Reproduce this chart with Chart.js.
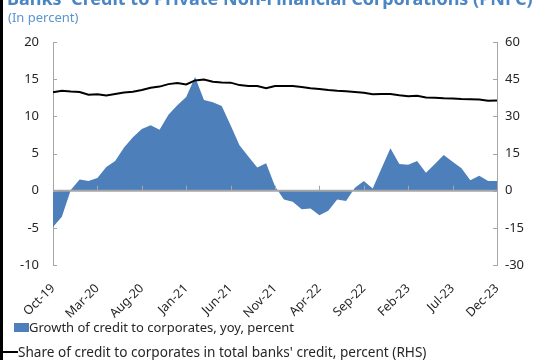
<!DOCTYPE html>
<html>
<head>
<meta charset="utf-8">
<script src="https://cdn.jsdelivr.net/npm/chart.js@4/dist/chart.umd.min.js"></script>
<style>
body { margin: 0; background: #fff; font-family: "Noto Sans", sans-serif; }
#page { position: relative; width: 539px; height: 360px; overflow: hidden; }
#frame { position: absolute; left: 0; top: 0; width: 3px; height: 360px; background: #000; }
#title { position: absolute; left: 7px; top: -14px; font-size: 18px; font-weight: bold; color: #4a85c4; white-space: nowrap; }
#subtitle { position: absolute; left: 8px; top: 8px; font-size: 13px; color: #5b95d0; }
#chartBox { position: absolute; left: 0; top: 0; width: 539px; height: 360px; }
.legendRow { position: absolute; font-size: 13px; color: #262626; white-space: nowrap; display: flex; align-items: center; }
.swatch { display: inline-block; width: 15px; height: 9px; background: #4d7fbb; }
.dash { display: inline-block; width: 15px; height: 2px; background: #000; }
</style>
</head>
<body>
<div id="page">
  <div id="chartBox"><canvas id="creditChart"></canvas></div>
  <div id="frame"></div>
  <div id="title">Banks' Credit to Private Non-Financial Corporations (PNFC)</div>
  <div id="subtitle">(In percent)</div>
  <div class="legendRow" style="left:14px; top:318px;"><span class="swatch"></span><span>Growth of credit to corporates, yoy, percent</span></div>
  <div class="legendRow" style="left:3px; top:342px; font-size:13.6px;"><span class="dash"></span><span>Share of credit to corporates in total banks' credit, percent (RHS)</span></div>
</div>
<script>
const months = [
    'Oct-19', 'Nov-19', 'Dec-19',
    'Jan-20', 'Feb-20', 'Mar-20', 'Apr-20', 'May-20', 'Jun-20', 'Jul-20', 'Aug-20', 'Sep-20', 'Oct-20', 'Nov-20', 'Dec-20',
    'Jan-21', 'Feb-21', 'Mar-21', 'Apr-21', 'May-21', 'Jun-21', 'Jul-21', 'Aug-21', 'Sep-21', 'Oct-21', 'Nov-21', 'Dec-21',
    'Jan-22', 'Feb-22', 'Mar-22', 'Apr-22', 'May-22', 'Jun-22', 'Jul-22', 'Aug-22', 'Sep-22', 'Oct-22', 'Nov-22', 'Dec-22',
    'Jan-23', 'Feb-23', 'Mar-23', 'Apr-23', 'May-23', 'Jun-23', 'Jul-23', 'Aug-23', 'Sep-23', 'Oct-23', 'Nov-23', 'Dec-23'
];

// growth of credit to corporates, yoy, % (left axis)
const creditGrowth = [
    -4.9, -3.5, 0.1, 1.5, 1.3, 1.7, 3.2, 4.0, 5.8, 7.2,
    8.3, 8.8, 8.2, 10.2, 11.5, 12.6, 15.3, 12.2, 11.9, 11.4,
    8.8, 6.1, 4.6, 3.1, 3.7, 0.6, -1.2, -1.5, -2.5, -2.4,
    -3.3, -2.7, -1.2, -1.4, 0.4, 1.3, 0.3, 3.0, 5.7, 3.6,
    3.5, 4.0, 2.4, 3.6, 4.8, 3.9, 3.0, 1.4, 2.0, 1.3,
    1.3
];

// share of credit to corporates in total banks' credit, % (right axis)
const creditShare = [
    39.7, 40.3, 40.0, 39.8, 38.7, 38.9, 38.4, 39.0, 39.6, 39.9,
    40.6, 41.5, 42.0, 43.0, 43.4, 42.9, 44.5, 44.9, 44.0, 43.7,
    43.6, 42.6, 42.2, 42.2, 41.3, 42.2, 42.2, 42.2, 41.8, 41.3,
    41.0, 40.6, 40.3, 40.1, 39.8, 39.5, 38.9, 39.0, 39.0, 38.5,
    38.1, 38.3, 37.6, 37.5, 37.3, 37.2, 37.0, 36.9, 36.8, 36.3,
    36.4
];

const leftTicks = { min: -10, max: 20, step: 5 };
const rightTicks = { min: -30, max: 60, step: 15 };
const labelEvery = 5;

Chart.defaults.font.family = '"Noto Sans", sans-serif';
Chart.defaults.font.size = 13;
Chart.defaults.color = '#262626';

// zero line plus the small inward tick marks
const axisMarks = {
    id: 'axisMarks',
    afterDatasetsDraw(chart) {
        const { ctx, chartArea, scales } = chart;
        const y0 = scales.y.getPixelForValue(0);
        ctx.save();
        ctx.strokeStyle = '#a6a6a6';
        ctx.lineWidth = 2;
        ctx.beginPath();
        ctx.moveTo(chartArea.left, y0);
        ctx.lineTo(chartArea.right, y0);
        ctx.stroke();

        ctx.lineWidth = 1;
        ctx.beginPath();
        for (let i = labelEvery; i < months.length - 1; i += labelEvery) {
            const x = Math.round(scales.x.getPixelForValue(i)) + 0.5;
            ctx.moveTo(x, y0);
            ctx.lineTo(x, y0 - 5);
        }
        scales.y.ticks.forEach(t => {
            const y = Math.round(scales.y.getPixelForValue(t.value)) + 0.5;
            ctx.moveTo(chartArea.left, y);
            ctx.lineTo(chartArea.left + 4, y);
        });
        scales.y2.ticks.forEach(t => {
            const y = Math.round(scales.y2.getPixelForValue(t.value)) + 0.5;
            ctx.moveTo(chartArea.right, y);
            ctx.lineTo(chartArea.right - 4, y);
        });
        ctx.stroke();
        ctx.restore();
    }
};

const ctx = document.getElementById('creditChart').getContext('2d');
new Chart(ctx, {
    type: 'line',
    data: {
        labels: months,
        datasets: [{
            label: 'Share of credit to corporates in total banks\' credit, percent (RHS)',
            data: creditShare,
            yAxisID: 'y2',
            borderColor: '#000000',
            borderWidth: 2,
            pointRadius: 0,
            fill: false,
            tension: 0,
            order: 0
        }, {
            label: 'Growth of credit to corporates, yoy, percent',
            data: creditGrowth,
            yAxisID: 'y',
            backgroundColor: '#4d7fbb',
            borderColor: '#4d7fbb',
            borderWidth: 0,
            pointRadius: 0,
            fill: 'origin',
            tension: 0,
            order: 1
        }]
    },
    options: {
        responsive: true,
        maintainAspectRatio: false,
        animation: false,
        layout: {
            padding: { left: 0, right: 0, top: 42, bottom: 40 }
        },
        plugins: {
            legend: { display: false },
            tooltip: { enabled: false }
        },
        scales: {
            x: {
                offset: false,
                grid: { display: false, drawTicks: false },
                border: { display: false },
                afterFit: s => { s.height = 55; },
                ticks: {
                    autoSkip: false,
                    minRotation: 45,
                    maxRotation: 45,
                    padding: 16,
                    font: { size: 12.5 },
                    callback: (v, i) => (i % labelEvery === 0 ? months[i] : '')
                }
            },
            y: {
                position: 'left',
                min: leftTicks.min,
                max: leftTicks.max,
                grid: { drawOnChartArea: false, drawTicks: false },
                border: { display: true, color: '#a6a6a6', width: 1 },
                afterFit: s => { s.width = 53; },
                ticks: { stepSize: leftTicks.step, padding: 14 }
            },
            y2: {
                position: 'right',
                min: rightTicks.min,
                max: rightTicks.max,
                grid: { drawOnChartArea: false, drawTicks: false },
                border: { display: true, color: '#a6a6a6', width: 1 },
                afterFit: s => { s.width = 42; },
                ticks: { stepSize: rightTicks.step, padding: 8 }
            }
        }
    },
    plugins: [axisMarks]
});
</script>
</body>
</html>
